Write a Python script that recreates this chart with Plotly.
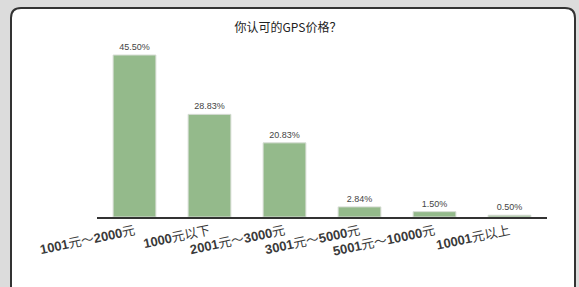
import plotly.graph_objects as go

categories = ["1001元～2000元", "1000元以下", "2001元～3000元", "3001元～5000元", "5001元～10000元", "10001元以上"]
tick_labels = ["<b>1001</b>元～<b>2000</b>元", "<b>1000</b>元以下", "<b>2001</b>元～<b>3000</b>元",
               "<b>3001</b>元～<b>5000</b>元", "<b>5001</b>元～<b>10000</b>元", "<b>10001</b>元以上"]
values = [45.50, 28.83, 20.83, 2.84, 1.50, 0.50]
value_text = ["45.50%", "28.83%", "20.83%", "2.84%", "1.50%", "0.50%"]
title_text = "你认可的GPS价格？"

W, H = 579, 287
L, R = 97, 547
T, B = 39, 217

def px(x):
    return (x - L) / (R - L)

def py(y):
    return (B - y) / (B - T)

fig = go.Figure()
fig.add_trace(go.Bar(
    x=list(range(len(categories))), y=values,
    text=value_text, textposition="outside", cliponaxis=False,
    textfont=dict(size=9, color="#444", family="Liberation Sans"),
    marker=dict(color="#94BA8B", line=dict(color="#d6dcd4", width=1)),
    width=0.57,
))

# rounded white panel
x0, x1, y0, y1, r = px(11), px(575), py(8), py(295), 10
rx = r / (R - L)
ry = r / (B - T)
path = (f"M {x0+rx},{y0} L {x1-rx},{y0} Q {x1},{y0} {x1},{y0-ry} "
        f"L {x1},{y1} L {x0},{y1} L {x0},{y0-ry} Q {x0},{y0} {x0+rx},{y0} Z")
fig.add_shape(type="path", path=path, xref="paper", yref="paper",
              fillcolor="white", line=dict(color="#333", width=2), layer="below")

fig.update_layout(
    width=W, height=H,
    margin=dict(l=L, r=W - R, t=T, b=H - B),
    paper_bgcolor="#dcdcdc", plot_bgcolor="rgba(0,0,0,0)",
    showlegend=False,
    title=dict(text=title_text, x=px(288), xref="paper", y=1 - 28 / H, yanchor="middle", xanchor="center",
               font=dict(family="Noto Sans CJK SC", size=12, color="#222")),
    xaxis=dict(tickmode="array", tickvals=list(range(len(categories))), ticktext=tick_labels,
               range=[-0.5, 5.5], tickangle=-12, showgrid=False, zeroline=False,
               showline=True, linecolor="#333", linewidth=1.5, ticks="",
               tickfont=dict(family="Liberation Sans, Noto Sans CJK SC", size=13, color="#3a3a3a")),
    yaxis=dict(range=[0, 50], visible=False, showgrid=False),
)

fig.write_html("out.html", config={"displayModeBar": False},
               post_script="document.body.style.margin='0';")
